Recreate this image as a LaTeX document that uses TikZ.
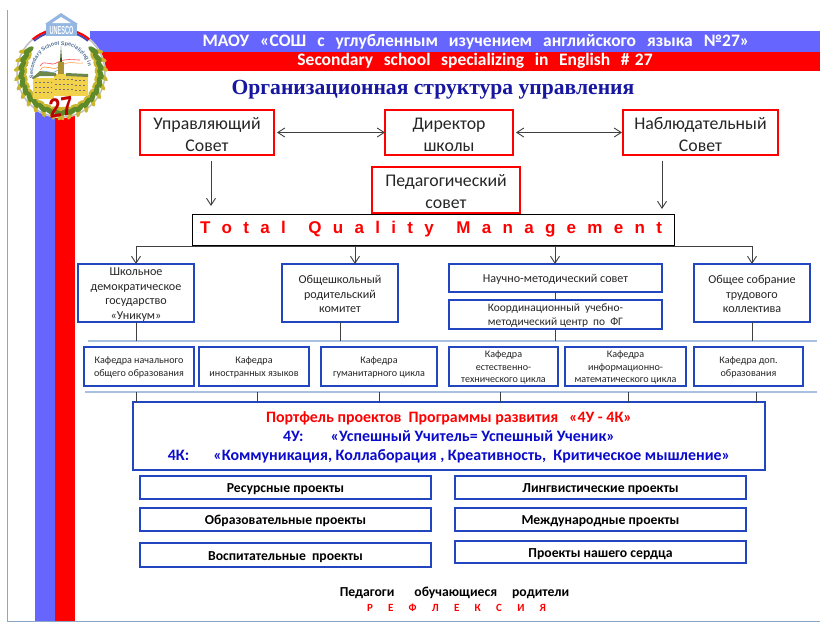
\documentclass[tikz,border=0pt]{standalone}
\usepackage{fontspec}
\setmainfont{Carlito}
\newfontfamily\arialf{Liberation Sans}
\newfontfamily\serff{Liberation Serif}
\usetikzlibrary{arrows.meta,decorations.text}
\definecolor{bandblue}{HTML}{6666FF}
\definecolor{bandred}{HTML}{FF0000}
\definecolor{boxblue}{HTML}{2146C0}
\definecolor{ruleblue}{HTML}{A9C1E0}
\definecolor{frameblue}{HTML}{8CA6C6}
\definecolor{titleblue}{HTML}{1616A0}
\definecolor{portblue}{HTML}{0B0BCC}
\definecolor{inktext}{HTML}{262626}
\definecolor{wreath}{HTML}{5F8A2A}
\definecolor{wreathy}{HTML}{C9B62E}
\definecolor{bldg}{HTML}{F2D24A}
\definecolor{logoblue}{HTML}{6F9FD8}
\tikzset{
  redbox/.style={draw=bandred,line width=2.4pt,fill=white,text=inktext,font=\fontsize{17.8}{22}\selectfont},
  bluebox/.style={draw=boxblue,line width=2.4pt,fill=white,text=inktext,font=\fontsize{12.1}{14.5}\selectfont},
  kafbox/.style={draw=boxblue,line width=1.5pt,fill=white,text=inktext,font=\fontsize{10.1}{12.6}\selectfont},
  projbox/.style={draw=boxblue,line width=2.4pt,fill=white,text=black,font=\bfseries\fontsize{13.7}{14}\selectfont},
  conn/.style={draw=black!75,line width=0.9pt},
  arr/.style={conn,-{Straight Barb[length=7pt,width=9pt]}},
  darr/.style={conn,{Straight Barb[length=7pt,width=9pt]}-{Straight Barb[length=7pt,width=9pt]}},
  rulel/.style={draw=ruleblue,line width=1.1pt},
  label/.style={inner sep=0pt}
}
\newcommand{\bx}[7]{%
  \pgfmathsetmacro{\bxw}{#4-#2}\pgfmathsetmacro{\bxh}{#5-#3}%
  \pgfmathsetmacro{\bxx}{(#2+#4)/2}\pgfmathsetmacro{\bxy}{(#3+#5)/2}%
  \node[#6,inner sep=0pt,outer sep=0pt,align=center,minimum width=\bxw pt,minimum height=\bxh pt] (#1) at (\bxx,\bxy) {\rule{0pt}{0.9em}#7};}
\begin{document}
\begin{tikzpicture}[x=1pt,y=-1pt]
\useasboundingbox[fill=white] (0,0) rectangle (820,622);
% frame
\draw[frameblue,line width=0.8pt] (7,10) -- (7,621) -- (820,621);
% bands
\fill[bandblue] (35,100) rectangle (55,620.5);
\fill[bandred] (55,100) rectangle (75,620.5);
\fill[bandblue] (90,31) rectangle (820,51.5);
\fill[bandred] (90,51.5) rectangle (820,71);
% logo
\begin{scope}[shift={(61,73)}]
  \fill[white] (0,0) circle (45pt);
  \draw[black!25,line width=1.5pt] (0,0) circle (44pt);
  \draw[bandblue!70!black,line width=2pt] (130:42pt) arc[start angle=130,end angle=105,radius=42pt];
  \draw[bandred,line width=2pt] (130:44pt) arc[start angle=130,end angle=108,radius=44pt];
  \draw[bandblue!70!black,line width=2pt] (50:42pt) arc[start angle=50,end angle=75,radius=42pt];
  \draw[bandred,line width=2pt] (50:44pt) arc[start angle=50,end angle=72,radius=44pt];
  \foreach \a in {145,157,...,270}{
    \fill[wreathy,shift={(\a+5:43pt)},rotate=\a+40] (0,0) ellipse[x radius=5pt,y radius=2.2pt];
    \fill[wreathy,shift={(\a+6:36pt)},rotate=\a+110] (0,0) ellipse[x radius=4.5pt,y radius=2pt];
    \fill[wreath,shift={(\a:39.5pt)},rotate=\a+70] (0,0) ellipse[x radius=6pt,y radius=2.6pt];
  }
  \foreach \a in {35,23,...,-90}{
    \fill[wreathy,shift={(\a-5:43pt)},rotate=\a-40] (0,0) ellipse[x radius=5pt,y radius=2.2pt];
    \fill[wreathy,shift={(\a-6:36pt)},rotate=\a-110] (0,0) ellipse[x radius=4.5pt,y radius=2pt];
    \fill[wreath,shift={(\a:39.5pt)},rotate=\a-70] (0,0) ellipse[x radius=6pt,y radius=2.6pt];
  }
\end{scope}
% ribbons
\draw[bandred!70,line width=0.6pt] (40,66) .. controls (45,58) and (50,68) .. (58,62) .. controls (66,58) and (72,60) .. (80,60);
\draw[orange!80,line width=0.6pt] (40,70) .. controls (46,62) and (52,73) .. (60,66) .. controls (70,60) and (74,64) .. (83,63);
\draw[logoblue,line width=0.6pt] (38,74) .. controls (44,66) and (50,77) .. (58,70);
% spire and building
\fill[wreath!60!black] (59.5,70) -- (61,46) -- (62.5,70) -- cycle;
\fill[bldg!70!black] (58,62) rectangle (64,74);
\fill[bldg] (33,78) rectangle (54,99);
\fill[bldg] (54,74) rectangle (74,96);
\fill[bldg] (74,76) rectangle (88,96);
\fill[wreath!60!gray] (32,78) -- (40,71) -- (56,73) -- (56,76) -- (40,76) -- (33,79) -- cycle;
\fill[wreath!60!gray] (66,73) -- (88,74) -- (88,77) -- (66,76) -- cycle;
\foreach \r in {82,87,92}{
  \draw[black!55,line width=0.9pt,dash pattern=on 2pt off 2pt] (35,\r) -- (52,\r);
  \draw[black!55,line width=0.9pt,dash pattern=on 2pt off 2pt] (55,\r-3) -- (73,\r-3);
  \draw[black!55,line width=0.9pt,dash pattern=on 2pt off 2pt] (75,\r-2) -- (87,\r-2);
}
% temple
\fill[logoblue!75] (45,24) -- (61,13) -- (78,24) -- cycle;
\fill[white] (52,23) -- (61,17) -- (71,23) -- cycle;
\fill[logoblue!75] (46,24) rectangle (77,36);
\node[label,text=white,font=\arialf\bfseries\fontsize{9}{9}\selectfont,xscale=0.62,yscale=1.3] (unesco) at (61.5,30) {UNESCO};
% ring text
\path[postaction={decorate},decoration={text along path,text align=fit to path,
  text={|\arialf\bfseries\fontsize{5.4}{6}\selectfont\color{logoblue!70!black}|Secondary School Specializing in English}}]
  (33.6,78) arc[start angle=190,end angle=15,radius=28pt];
\node[label,text=bandred!75!black,font=\arialf\bfseries\fontsize{27}{27}\selectfont,xscale=0.8,rotate=8] (n27) at (61,107) {27};
% header
\node[label,text=white,font=\bfseries\fontsize{17.5}{18}\selectfont] (hd1) at (476,42) {\spaceskip=5.5pt МАОУ\ \ «СОШ\ \ с\ \ углубленным\ \ изучением\ \ английского\ \ языка\ \ №27»};
\node[label,text=white,font=\bfseries\fontsize{17.5}{18}\selectfont] (hd2) at (475,60.5) {\spaceskip=5.3pt Secondary\ \ school\ \ specializing\ \ in\ \ English\ \ \#\ 27};
\node[label,text=titleblue,font=\serff\bfseries\fontsize{21.6}{22}\selectfont] (title) at (433,89.5) {Организационная структура управления};
% top boxes
\bx{upr}{140}{110}{274}{155}{redbox}{Управляющий\\Совет}
\bx{dir}{385}{110}{513}{155}{redbox}{Директор\\школы}
\bx{nab}{623}{110}{778}{155}{redbox}{Наблюдательный\\Совет}
\bx{ped}{372}{167}{520}{213}{redbox}{Педагогический\\совет}
\bx{tqm}{192}{214}{674}{245}{draw=black,line width=1pt,fill=white}{\arialf\bfseries\fontsize{17}{20}\selectfont\color{bandred}\hbox to 462pt{\spaceskip=0pt plus 1fil T o t a l\ \ Q u a l i t y\ \ M a n a g e m e n t}\kern4pt}
% second row
\bx{shk}{78}{264}{194}{322}{bluebox}{Школьное\\демократическое\\государство\\«Уникум»}
\bx{obsh}{282}{264}{398}{322}{bluebox}{Общешкольный\\родительский\\комитет}
\bx{nauch}{449}{264}{662}{292}{bluebox}{Научно-методический совет}
\bx{koord}{449}{300}{662}{329}{bluebox,font=\fontsize{11.4}{14.2}\selectfont}{Координационный\ \ учебно-\\методический\ центр\ \ по\ \ ФГ}
\bx{sobr}{694}{264}{810}{322}{bluebox}{Общее собрание\\трудового\\коллектива}
% kafedras
\bx{k1}{84}{347}{194}{386}{kafbox}{Кафедра начального\\общего образования}
\bx{k2}{199}{347}{309}{386}{kafbox}{Кафедра\\иностранных языков}
\bx{k3}{321}{347}{437}{386}{kafbox}{Кафедра\\гуманитарного цикла}
\bx{k4}{449}{347}{558}{386}{kafbox}{Кафедра\\естественно-\\технического цикла}
\bx{k5}{565}{347}{686}{386}{kafbox}{Кафедра\\информационно-\\математического цикла}
\bx{k6}{694}{347}{803}{386}{kafbox}{Кафедра доп.\\образования}
% portfolio
\bx{port}{133}{402}{765}{470}{draw=boxblue,line width=2.4pt,fill=white,font=\bfseries\fontsize{15.9}{19}\selectfont}{\color{bandred}Портфель\ проектов\ \ Программы развития\ \ \ «4У - 4К»\\\color{portblue}4У:\hspace{27pt}«Успешный Учитель= Успешный Ученик»\\\color{portblue}4К:\hspace{24pt}«Коммуникация, Коллаборация , Креативность,\ \ Критическое мышление»}
% projects
\bx{p1}{140}{476}{431}{499}{projbox}{Ресурсные проекты}
\bx{p2}{140}{508}{431}{531}{projbox}{Образовательные проекты}
\bx{p3}{140}{543}{431}{567}{projbox}{Воспитательные\ \ проекты}
\bx{p4}{455}{476}{746}{499}{projbox}{Лингвистические проекты}
\bx{p5}{455}{508}{746}{531}{projbox}{Международные проекты}
\bx{p6}{455}{541}{746}{563}{projbox}{Проекты нашего сердца}
% footer
\node[label,text=black,font=\bfseries\fontsize{13.7}{14}\selectfont] (foot1) at (454.5,593) {Педагоги\hspace{20pt}обучающиеся\hspace{15pt}родители};
\node[label,text=bandred,font=\bfseries\fontsize{11}{12}\selectfont] (foot2) at (456.5,608) {\hbox to 179pt{\spaceskip=0pt plus 1fil Р Е Ф Л Е К С И Я}};
% named connector ends
\coordinate (rA1) at (88,341); \coordinate (rA2) at (817,341);
\coordinate (rB1) at (85,392); \coordinate (rB2) at (817,392);
\coordinate (busY) at (0,246);
\coordinate (uprFrom) at (211,161); \coordinate (uprTo) at (211,206);
\coordinate (nabFrom) at (662,161); \coordinate (nabTo) at (662,209);
\coordinate (xobsh) at (355,246); \coordinate (xnauch) at (555,246);
% rules
\draw[rulel] (rA1) -- (rA2);
\draw[rulel] (rB1) -- (rB2);
% top connectors
\draw[darr] ([xshift=3pt]upr.east) -- (dir.west);
\draw[darr] ([xshift=3pt]dir.east) -- ([xshift=-1pt]nab.west);
\draw[arr] (uprFrom) -- (uprTo);
\draw[arr] (nabFrom) -- (nabTo);
% bus
\draw[conn] (shk.north |- busY) -- (sobr.north |- busY);
\draw[arr] (shk.north |- busY) -- (shk.north);
\draw[arr] (xobsh) -- (xobsh |- obsh.north);
\draw[arr] (xnauch) -- (xnauch |- nauch.north);
\draw[arr] (sobr.north |- busY) -- (sobr.north);
% stems
\draw[conn] (shk.south) -- (shk.south |- rA1);
\draw[conn] (obsh.south) -- (obsh.south |- rA1);
\draw[conn] (nauch.south -| xnauch) -- (koord.north -| xnauch);
\draw[conn] (koord.south -| xnauch) -- (xnauch |- rA1);
\draw[conn] (sobr.south) -- (sobr.south |- rA1);
% stems to portfolio
\foreach \n/\sx in {a/136,b/257,c/379,d/500,e/628,f/756}{
  \coordinate (st\n) at (\sx,392);
  \draw[conn] (st\n) -- (st\n |- port.north);
}
\end{tikzpicture}
\end{document}
